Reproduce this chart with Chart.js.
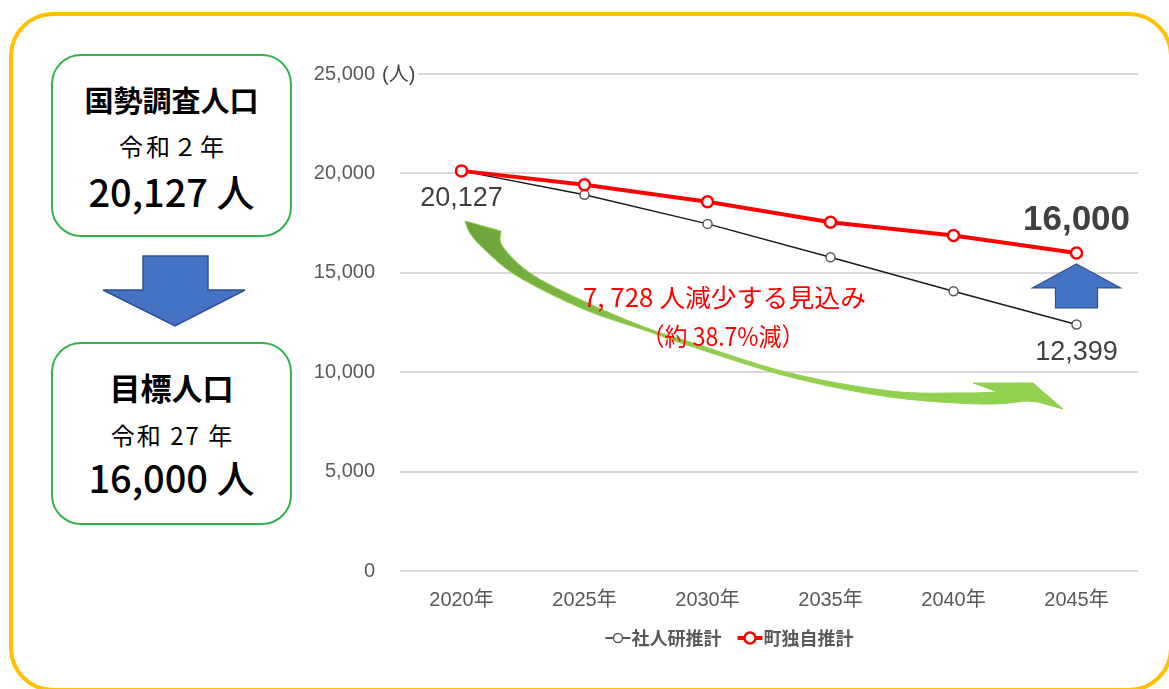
<!DOCTYPE html>
<html>
<head>
<meta charset="utf-8">
<script src="https://cdn.jsdelivr.net/npm/chart.js@4.4.0/dist/chart.umd.min.js"></script>
<style>
html,body{margin:0;padding:0;background:#fff;width:1169px;height:689px;overflow:hidden;}
#frame{position:absolute;left:9px;top:12px;width:1164px;height:680px;box-sizing:border-box;border:4px solid #FFC000;border-radius:44px;}
.box{position:absolute;left:51px;width:241px;height:183px;box-sizing:border-box;border:2px solid #35B152;border-radius:30px;background:#fff;}
.t{position:absolute;left:51px;width:241px;text-align:center;line-height:1;font-family:"Noto Sans CJK JP",sans-serif;color:#000;white-space:nowrap;}
svg{position:absolute;left:0;top:0;}
canvas{position:absolute;left:0;top:0;}
</style>
</head>
<body>
<div id="frame"></div>
<div class="box" style="top:54px;"></div>
<div class="box" style="top:342px;"></div>
<div class="t" style="top:85px;font-size:29px;font-weight:700;">国勢調査人口</div>
<div class="t" style="top:134px;font-size:24px;letter-spacing:3px;text-indent:3px;">令和２年</div>
<div class="t" style="top:172px;font-size:38px;font-weight:500;">20,127 人</div>
<div class="t" style="top:371px;font-size:31px;font-weight:700;">目標人口</div>
<div class="t" style="top:423px;font-size:24px;letter-spacing:2px;text-indent:2px;">令和 27 年</div>
<div class="t" style="top:458px;font-size:38px;font-weight:500;">16,000 人</div>
<svg width="1169" height="689">
<polygon points="143,256 208,256 208,290 245,290 175,326 103,290 143,290" fill="#4472C4" stroke="#2F528F" stroke-width="1.5"/>
</svg>
<canvas id="c" width="1169" height="689"></canvas>
<script>
const categories = ['2020年','2025年','2030年','2035年','2040年','2045年'];
const ipssValues = [20127, 18930, 17460, 15780, 14070, 12399];
const townValues = [20127, 19430, 18570, 17540, 16880, 16000];
const yTicks = [0, 5000, 10000, 15000, 20000, 25000];
const seriesLabels = ['社人研推計', '町独自推計'];
const noteLines = ['7, 728 人減少する見込み', '（約 38.7%減）'];
const unitLabel = '(人)';

const LATIN = '"Liberation Sans","Noto Sans CJK JP",sans-serif';
const CJK = '"Noto Sans CJK JP",sans-serif';

function smooth(ctx, pts, move){
  if (move) ctx.moveTo(pts[0][0], pts[0][1]); else ctx.lineTo(pts[0][0], pts[0][1]);
  for (let i = 0; i < pts.length - 1; i++){
    const p0 = pts[i-1] || pts[i], p1 = pts[i], p2 = pts[i+1], p3 = pts[i+2] || p2;
    ctx.bezierCurveTo(p1[0]+(p2[0]-p0[0])/6, p1[1]+(p2[1]-p0[1])/6,
                      p2[0]-(p3[0]-p1[0])/6, p2[1]-(p3[1]-p1[1])/6, p2[0], p2[1]);
  }
}

const decor = {
  id: 'decor',
  beforeDatasetsDraw(chart){
    const ctx = chart.ctx;
    ctx.save();
    // curved green arrow
    const upper = [[501,231],[503,247],[533,275],[590,304],[647,328],[690,342],[790,373],[890,391],[960,393],[998,392]];
    const lower = [[1027,401],[980,404],[890,397],[790,377],[690,346],[647,331],[583,309],[517,276],[483,248],[470,233],[465,221]];
    ctx.beginPath();
    ctx.moveTo(465,221);
    ctx.lineTo(501,231);
    smooth(ctx, upper, false);
    ctx.lineTo(973,383);
    ctx.lineTo(1033,383);
    ctx.lineTo(1063,409);
    ctx.lineTo(1038,402);
    smooth(ctx, lower, false);
    ctx.closePath();
    const g = ctx.createLinearGradient(470,0,720,0);
    g.addColorStop(0,'#6CA23A');
    g.addColorStop(0.55,'#84BE48');
    g.addColorStop(1,'#92D050');
    ctx.fillStyle = g;
    ctx.fill();
    ctx.strokeStyle = '#92D050';
    ctx.lineWidth = 1;
    ctx.lineJoin = 'round';
    ctx.stroke();
    ctx.restore();
  },
  afterDatasetsDraw(chart){
    const ctx = chart.ctx;
    const xs = chart.scales.x, ys = chart.scales.y;
    const n = categories.length - 1;
    ctx.save();
    // unit label at top tick
    const topY = ys.getPixelForValue(yTicks[yTicks.length-1]);
    ctx.fillStyle = '#fff';
    ctx.fillRect(380, topY-10, 38, 20);
    ctx.font = '20px ' + LATIN;
    ctx.fillStyle = '#404040';
    ctx.textAlign = 'left';
    ctx.textBaseline = 'middle';
    ctx.fillText(unitLabel, 382, topY+1);

    // blue up arrow under last red point
    const ax = xs.getPixelForValue(n);
    const ay = ys.getPixelForValue(townValues[n]) + 11;
    ctx.beginPath();
    ctx.moveTo(ax, ay);
    ctx.lineTo(ax+44, ay+24);
    ctx.lineTo(ax+21, ay+24);
    ctx.lineTo(ax+21, ay+44);
    ctx.lineTo(ax-21, ay+44);
    ctx.lineTo(ax-21, ay+24);
    ctx.lineTo(ax-44, ay+24);
    ctx.closePath();
    ctx.fillStyle = '#4472C4';
    ctx.fill();
    ctx.strokeStyle = '#2F528F';
    ctx.lineWidth = 1.2;
    ctx.stroke();

    // data labels
    ctx.textAlign = 'center';
    ctx.textBaseline = 'middle';
    ctx.fillStyle = '#404040';
    ctx.font = '27px ' + LATIN;
    ctx.fillText(ipssValues[0].toLocaleString('en-US'), xs.getPixelForValue(0), ys.getPixelForValue(ipssValues[0]) + 28);
    ctx.fillText(ipssValues[n].toLocaleString('en-US'), xs.getPixelForValue(n), ys.getPixelForValue(ipssValues[n]) + 28);
    ctx.font = 'bold 35px ' + LATIN;
    ctx.fillText(townValues[n].toLocaleString('en-US'), xs.getPixelForValue(n), ys.getPixelForValue(townValues[n]) - 33);

    // red note
    ctx.fillStyle = '#FF0000';
    ctx.font = '25px ' + CJK;
    const targets = [[724.5, 297, 283],[723, 336, 163]];
    noteLines.forEach((s, i) => {
      const [cx, cy, w] = targets[i];
      const mw = ctx.measureText(s).width;
      ctx.save();
      ctx.translate(cx, cy);
      ctx.scale(w / mw, 1);
      ctx.fillText(s, 0, 0);
      ctx.restore();
    });

    // legend
    ctx.font = 'bold 18px ' + CJK;
    ctx.textAlign = 'left';
    const ly = 638;
    const mk = 25, gap = 17;
    const w0 = ctx.measureText(seriesLabels[0]).width, w1 = ctx.measureText(seriesLabels[1]).width;
    const total = mk + w0 + gap + mk + w1;
    let lx = 729 - total/2;
    const ds = chart.data.datasets;
    [0,1].forEach(i => {
      const d = ds[i];
      ctx.beginPath();
      ctx.moveTo(lx, ly); ctx.lineTo(lx+mk, ly);
      ctx.strokeStyle = d.borderColor; ctx.lineWidth = d.borderWidth;
      ctx.stroke();
      ctx.beginPath();
      ctx.arc(lx+mk/2, ly, d.pointRadius, 0, Math.PI*2);
      ctx.fillStyle = '#fff'; ctx.fill();
      ctx.strokeStyle = d.pointBorderColor; ctx.lineWidth = d.pointBorderWidth;
      ctx.stroke();
      ctx.fillStyle = '#595959';
      ctx.fillText(seriesLabels[i], lx+mk+1, ly);
      lx += mk + (i === 0 ? w0 : w1) + gap;
    });
    ctx.restore();
  }
};

new Chart(document.getElementById('c'), {
  type: 'line',
  data: {
    labels: categories,
    datasets: [
      { label: seriesLabels[0], data: ipssValues, borderColor: '#1a1a1a', borderWidth: 1.5,
        pointRadius: 4.5, pointBorderWidth: 1.5, pointBackgroundColor: '#fff', pointBorderColor: '#595959',
        tension: 0, order: 1 },
      { label: seriesLabels[1], data: townValues, borderColor: '#FF0000', borderWidth: 4,
        pointRadius: 5.5, pointBorderWidth: 2.5, pointBackgroundColor: '#fff', pointBorderColor: '#FF0000',
        tension: 0, order: 0 }
    ]
  },
  options: {
    responsive: false,
    animation: false,
    layout: { padding: { left: 300, right: 31, top: 74, bottom: 68 } },
    plugins: { legend: { display: false }, tooltip: { enabled: false } },
    scales: {
      x: {
        offset: true,
        grid: { display: false, drawTicks: false },
        border: { display: false },
        ticks: { color: '#595959', font: { family: LATIN, size: 20 }, padding: 17, maxRotation: 0 },
        afterFit(s){ s.height = 50; }
      },
      y: {
        min: 0, max: 25000,
        afterBuildTicks(s){ s.ticks = yTicks.map(v => ({ value: v })); },
        grid: { color: '#d9d9d9', lineWidth: 2, drawTicks: false },
        border: { display: false },
        ticks: { color: '#595959', font: { family: LATIN, size: 20 }, padding: 25,
                 callback: v => Number(v).toLocaleString('en-US') },
        afterFit(s){ s.width = 100; }
      }
    }
  },
  plugins: [decor]
});
</script>
</body>
</html>
